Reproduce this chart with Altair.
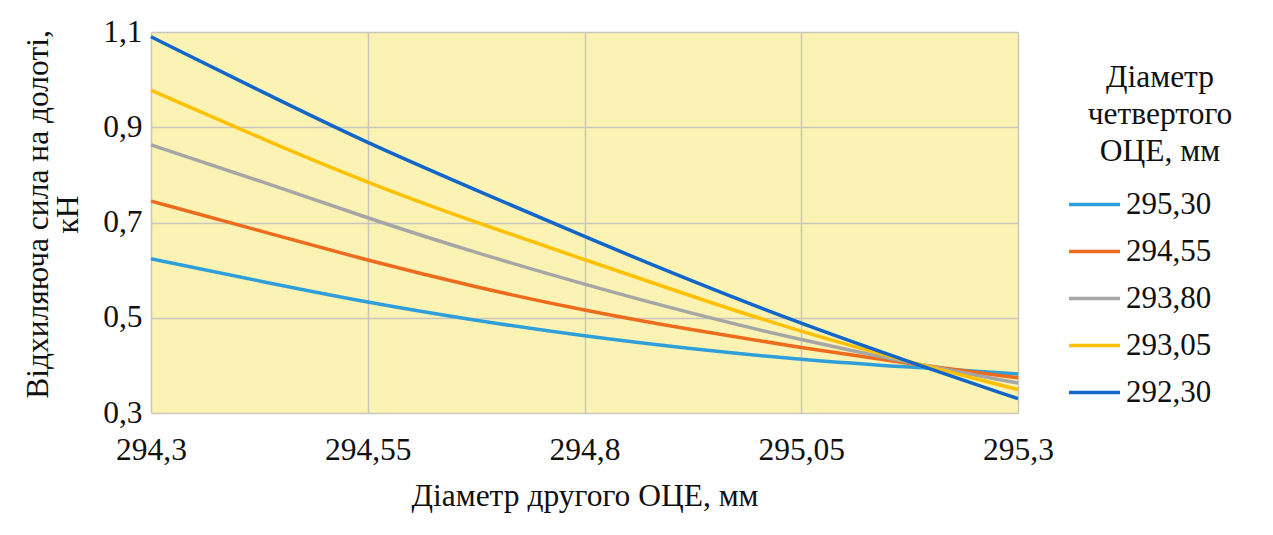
import altair as alt
import pandas as pd

# ---- data ----
x_diam2 = [294.3, 294.425, 294.55, 294.675, 294.8, 294.925, 295.05, 295.175, 295.3]
series_names = ["295,30", "294,55", "293,80", "293,05", "292,30"]
s_29530 = [0.624, 0.577, 0.532, 0.494, 0.461, 0.434, 0.412, 0.396, 0.382]
s_29455 = [0.745, 0.683, 0.620, 0.564, 0.515, 0.474, 0.437, 0.403, 0.374]
s_29380 = [0.863, 0.788, 0.709, 0.636, 0.570, 0.508, 0.453, 0.405, 0.363]
s_29305 = [0.978, 0.878, 0.783, 0.700, 0.622, 0.544, 0.470, 0.407, 0.349]
s_29230 = [1.090, 0.977, 0.866, 0.768, 0.670, 0.576, 0.487, 0.407, 0.330]
series_colors = ["#2E9FDA", "#EC6B1C", "#A6A6A6", "#FFC000", "#1266C9"]
x_ticks = [294.3, 294.55, 294.8, 295.05, 295.3]
y_ticks = [0.3, 0.5, 0.7, 0.9, 1.1]
x_title = "Діаметр другого ОЦЕ, мм"
y_title = ["Відхиляюча сила на долоті,", "кН"]
legend_title = "Діаметр\nчетвертого\nОЦЕ, мм"

FONT = "'Liberation Serif', 'Times New Roman', 'DejaVu Serif', serif"
FS = 31.5

rows = []
for name, vals in zip(series_names, [s_29530, s_29455, s_29380, s_29305, s_29230]):
    for xv, yv in zip(x_diam2, vals):
        rows.append({"d2": xv, "force": yv, "d4": name})
df = pd.DataFrame(rows)

W, H = 867, 381

lines = alt.Chart(df).mark_line(interpolate="basis", strokeWidth=3.5).encode(
    x=alt.X("d2:Q",
            scale=alt.Scale(domain=[294.3, 295.3], nice=False, zero=False),
            axis=alt.Axis(values=x_ticks, title=x_title,
                          labelExpr="replace(toString(datum.value), '.', ',')",
                          labelFlush=False,
                          labelPadding=21, titleY=92, titleBaseline="alphabetic",
                          titleAnchor="middle")),
    y=alt.Y("force:Q",
            scale=alt.Scale(domain=[0.3, 1.1], nice=False, zero=False),
            axis=alt.Axis(values=y_ticks, title=y_title,
                          labelExpr="replace(toString(datum.value), '.', ',')",
                          labelFlush=False,
                          labelPadding=9, titleX=-104, titleY=182,
                          titleAngle=-90, titleAlign="center",
                          titleBaseline="alphabetic", titleLineHeight=30)),
    color=alt.Color("d4:N",
                    scale=alt.Scale(domain=series_names, range=series_colors),
                    sort=series_names,
                    legend=alt.Legend(title=None, orient="none",
                                      legendX=916, legendY=145,
                                      symbolType="stroke", symbolSize=2600,
                                      symbolStrokeWidth=3.5, labelOffset=4,
                                      rowPadding=4, padding=0,
                                      labelFont=FONT, labelFontSize=31,
                                      labelColor="#111111")),
)

ltitle = alt.Chart(pd.DataFrame({"t": [legend_title]})).mark_text(
    font=FONT, fontSize=FS, lineBreak="\n", lineHeight=37,
    align="center", baseline="middle", color="#111111"
).encode(x=alt.value(1009), y=alt.value(46), text="t:N")

frame = alt.Chart(pd.DataFrame({"k": [0]})).mark_rect(
    fill=None, stroke="#D6D6D6", strokeWidth=1.5
).encode(x=alt.value(-144), x2=alt.value(1117), y=alt.value(-25), y2=alt.value(488))

chart = alt.layer(frame, lines, ltitle).properties(
    width=W, height=H,
    autosize=alt.AutoSizeParams(type="none"),
    padding={"left": 143, "top": 24, "right": 240, "bottom": 100},
    background="#FFFFFF",
).configure_view(
    fill="#FBF3B4", stroke=None
).configure_axis(
    grid=True, gridColor="#C9C6BC", gridWidth=1.5,
    domain=False, ticks=False,
    labelFont=FONT, labelFontSize=FS, labelColor="#111111",
    titleFont=FONT, titleFontSize=FS, titleColor="#111111",
    titleFontWeight="normal",
)

chart.save("out.html", embed_options={"renderer": "svg", "actions": False})
